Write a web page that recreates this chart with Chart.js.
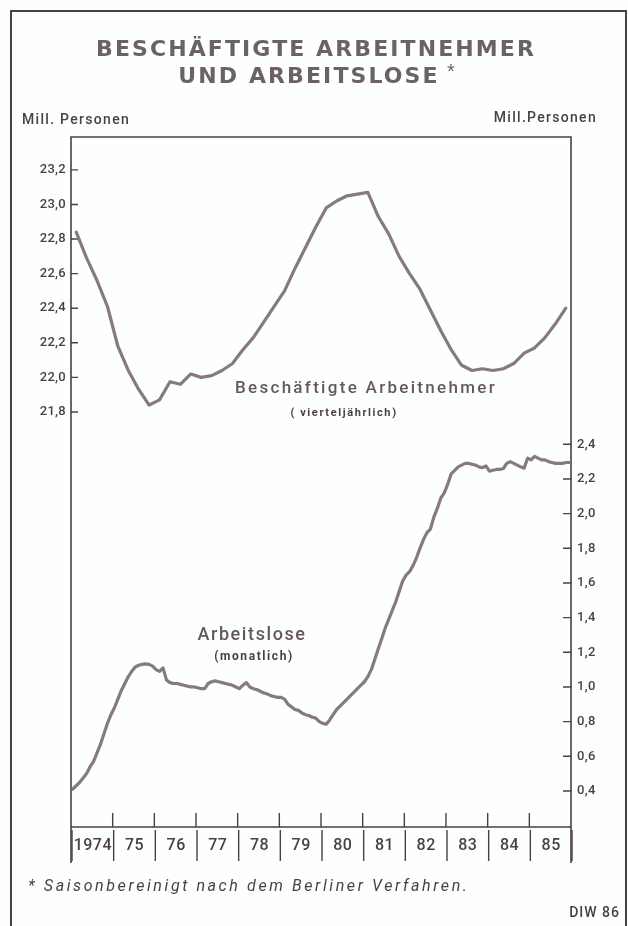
<!DOCTYPE html>
<html>
<head>
<meta charset="utf-8">
<script src="https://cdn.jsdelivr.net/npm/chart.js@4"></script>
<style>
  body { margin: 0; background: #fdfefe; }
  #chart { display: block; }
</style>
</head>
<body>
<canvas id="chart" width="628" height="926"></canvas>
<script>
// Beschäftigte Arbeitnehmer, Mill. Personen, quarterly 1974 Q1 - 1985 Q4
const employed = [
  22.84, 22.69, 22.56, 22.41,
  22.18, 22.04, 21.93, 21.84,
  21.87, 21.975, 21.96, 22.02,
  22.00, 22.01, 22.04, 22.08,
  22.16, 22.23, 22.32, 22.41,
  22.50, 22.63, 22.75, 22.87,
  22.98, 23.02, 23.05, 23.06,
  23.07, 22.93, 22.83, 22.70,
  22.60, 22.51, 22.39, 22.27,
  22.16, 22.07, 22.04, 22.05,
  22.04, 22.05, 22.08, 22.14,
  22.17, 22.23, 22.31, 22.40
];

// Arbeitslose, Mill. Personen, monthly Jan 1974 - Dec 1985
const unemployed = [
  0.41, 0.43, 0.45, 0.475, 0.50, 0.54, 0.57, 0.62, 0.67, 0.73, 0.79, 0.84,
  0.88, 0.93, 0.98, 1.02, 1.06, 1.09, 1.115, 1.125, 1.13, 1.133, 1.13, 1.12,
  1.10, 1.09, 1.11, 1.04, 1.025, 1.02, 1.02, 1.015, 1.01, 1.005, 1.00, 1.00,
  0.995, 0.99, 0.99, 1.02, 1.03, 1.035, 1.03, 1.025, 1.02, 1.015, 1.01, 1.00,
  0.99, 1.01, 1.025, 1.00, 0.99, 0.985, 0.975, 0.965, 0.96, 0.95, 0.945, 0.94,
  0.94, 0.93, 0.90, 0.885, 0.87, 0.865, 0.85, 0.84, 0.835, 0.825, 0.82, 0.80,
  0.79, 0.785, 0.81, 0.84, 0.87, 0.89, 0.91, 0.93, 0.95, 0.97, 0.99, 1.01,
  1.03, 1.06, 1.10, 1.16, 1.22, 1.28, 1.34, 1.39, 1.44, 1.49, 1.55, 1.61,
  1.645, 1.665, 1.70, 1.745, 1.80, 1.85, 1.89, 1.91, 1.98, 2.03, 2.09, 2.12,
  2.17, 2.23, 2.25, 2.27, 2.28, 2.29, 2.29, 2.285, 2.28, 2.27, 2.265, 2.275,
  2.245, 2.25, 2.255, 2.255, 2.26, 2.29, 2.30, 2.29, 2.28, 2.27, 2.262, 2.32,
  2.31, 2.33, 2.32, 2.31, 2.31, 2.30, 2.295, 2.29, 2.29, 2.29, 2.295, 2.295
];

const firstYear = 1974;
const yearLabels = ['1974', '75', '76', '77', '78', '79', '80', '81', '82', '83', '84', '85'];
const leftTicks = [21.8, 22.0, 22.2, 22.4, 22.6, 22.8, 23.0, 23.2];
const rightTicks = [0.4, 0.6, 0.8, 1.0, 1.2, 1.4, 1.6, 1.8, 2.0, 2.2, 2.4];

const ink = '#4a3f44';
const lineColor = '#877a7f';
const fmt = v => v.toFixed(1).replace('.', ',');

// points sit in the middle of their quarter / month
const employedPts = employed.map((v, i) => ({ x: firstYear + (i + 0.5) / 4, y: v }));
const unemployedPts = unemployed.map((v, i) => ({ x: firstYear + (i + 0.5) / 12, y: v }));

function txt(ctx, s, x, y, font, align, spacing, color) {
  ctx.font = font;
  ctx.textAlign = align;
  ctx.textBaseline = 'middle';
  ctx.fillStyle = color || ink;
  ctx.letterSpacing = (spacing || 0) + 'px';
  ctx.fillText(s, x, y);
  ctx.letterSpacing = '0px';
}

const decor = {
  id: 'decor',
  beforeDatasetsDraw(chart) {
    const { ctx, chartArea: a, scales } = chart;
    const xs = scales.x, yl = scales.yl, yr = scales.yr;
    ctx.save();
    ctx.strokeStyle = ink;
    ctx.lineCap = 'butt';

    // outer frame of the figure
    ctx.lineWidth = 2;
    ctx.beginPath();
    ctx.moveTo(11, 926); ctx.lineTo(11, 11); ctx.lineTo(626, 11); ctx.lineTo(626, 926);
    ctx.stroke();

    // plot frame
    ctx.lineWidth = 1.6;
    ctx.beginPath();
    ctx.moveTo(a.left, a.bottom + 36); ctx.lineTo(a.left, a.top);
    ctx.lineTo(a.right, a.top); ctx.lineTo(a.right, a.bottom + 36);
    ctx.moveTo(a.left, a.bottom); ctx.lineTo(a.right, a.bottom);
    ctx.stroke();

    // y ticks, drawn inside the frame
    ctx.lineWidth = 1.4;
    ctx.beginPath();
    leftTicks.forEach(v => {
      const y = yl.getPixelForValue(v);
      ctx.moveTo(a.left, y); ctx.lineTo(a.left + 7, y);
    });
    rightTicks.forEach(v => {
      const y = yr.getPixelForValue(v);
      ctx.moveTo(a.right - 8, y); ctx.lineTo(a.right, y);
    });
    // year ticks above the axis and separators below it
    for (let i = 0; i <= yearLabels.length; i++) {
      const x = xs.getPixelForValue(firstYear + i);
      if (i > 0 && i < yearLabels.length) {
        ctx.moveTo(x, a.bottom - 14); ctx.lineTo(x, a.bottom);
      }
      ctx.moveTo(x + 1, a.bottom + 3); ctx.lineTo(x + 1, a.bottom + 34);
    }
    ctx.stroke();

    leftTicks.forEach(v => txt(ctx, fmt(v), a.left - 5, yl.getPixelForValue(v), '500 13px Roboto', 'right', 0.3));
    rightTicks.forEach(v => txt(ctx, fmt(v), a.right + 6, yr.getPixelForValue(v), '500 13px Roboto', 'left', 0.3));
    yearLabels.forEach((s, i) => {
      txt(ctx, s, xs.getPixelForValue(firstYear + i + 0.5) + 1, a.bottom + 19, '500 16px Roboto', 'center', 0.5);
    });

    // titles and notes
    txt(ctx, 'BESCHÄFTIGTE ARBEITNEHMER', 316, 50, 'bold 22px "DejaVu Sans"', 'center', 2.1, '#6c6266');
    txt(ctx, 'UND ARBEITSLOSE', 309, 77, 'bold 22px "DejaVu Sans"', 'center', 2.1, '#6c6266');
    txt(ctx, '*', 447, 72, '20px "Liberation Sans"', 'left', 0, '#6c6266');
    txt(ctx, 'Mill. Personen', 22, 120, '500 14px Roboto', 'left', 1.3);
    txt(ctx, 'Mill.Personen', 597, 118, '500 14px Roboto', 'right', 1.3);
    txt(ctx, 'Beschäftigte Arbeitnehmer', 366, 389, '500 17px Roboto', 'center', 2.3, '#64585d');
    txt(ctx, '( vierteljährlich)', 344, 413, 'bold 11px Roboto', 'center', 1.6);
    txt(ctx, 'Arbeitslose', 252, 635, '500 18px Roboto', 'center', 1.6, '#64585d');
    txt(ctx, '(monatlich)', 254, 657, 'bold 12px Roboto', 'center', 1.6);
    txt(ctx, '* Saisonbereinigt nach dem Berliner Verfahren.', 28, 887, 'italic 16px Roboto', 'left', 2.6);
    txt(ctx, 'DIW 86', 620, 913, '500 14px Roboto', 'right', 1);
    ctx.restore();
  }
};

new Chart(document.getElementById('chart'), {
  type: 'line',
  data: {
    datasets: [
      { label: 'Beschäftigte Arbeitnehmer', data: employedPts, yAxisID: 'yl' },
      { label: 'Arbeitslose', data: unemployedPts, yAxisID: 'yr' }
    ]
  },
  options: {
    responsive: false,
    animation: false,
    layout: { padding: { left: 71, right: 57, top: 137, bottom: 99 } },
    elements: {
      line: { borderColor: lineColor, borderWidth: 3.2, tension: 0, borderJoinStyle: 'round', borderCapStyle: 'round' },
      point: { radius: 0 }
    },
    scales: {
      x: { type: 'linear', min: 1974, max: 1986, display: false },
      yl: { type: 'linear', position: 'left', min: 19.4, max: 23.39, display: false },
      yr: { type: 'linear', position: 'right', min: 0.192, max: 4.173, display: false }
    },
    plugins: { legend: { display: false }, tooltip: { enabled: false } }
  },
  plugins: [decor]
});
</script>
</body>
</html>
